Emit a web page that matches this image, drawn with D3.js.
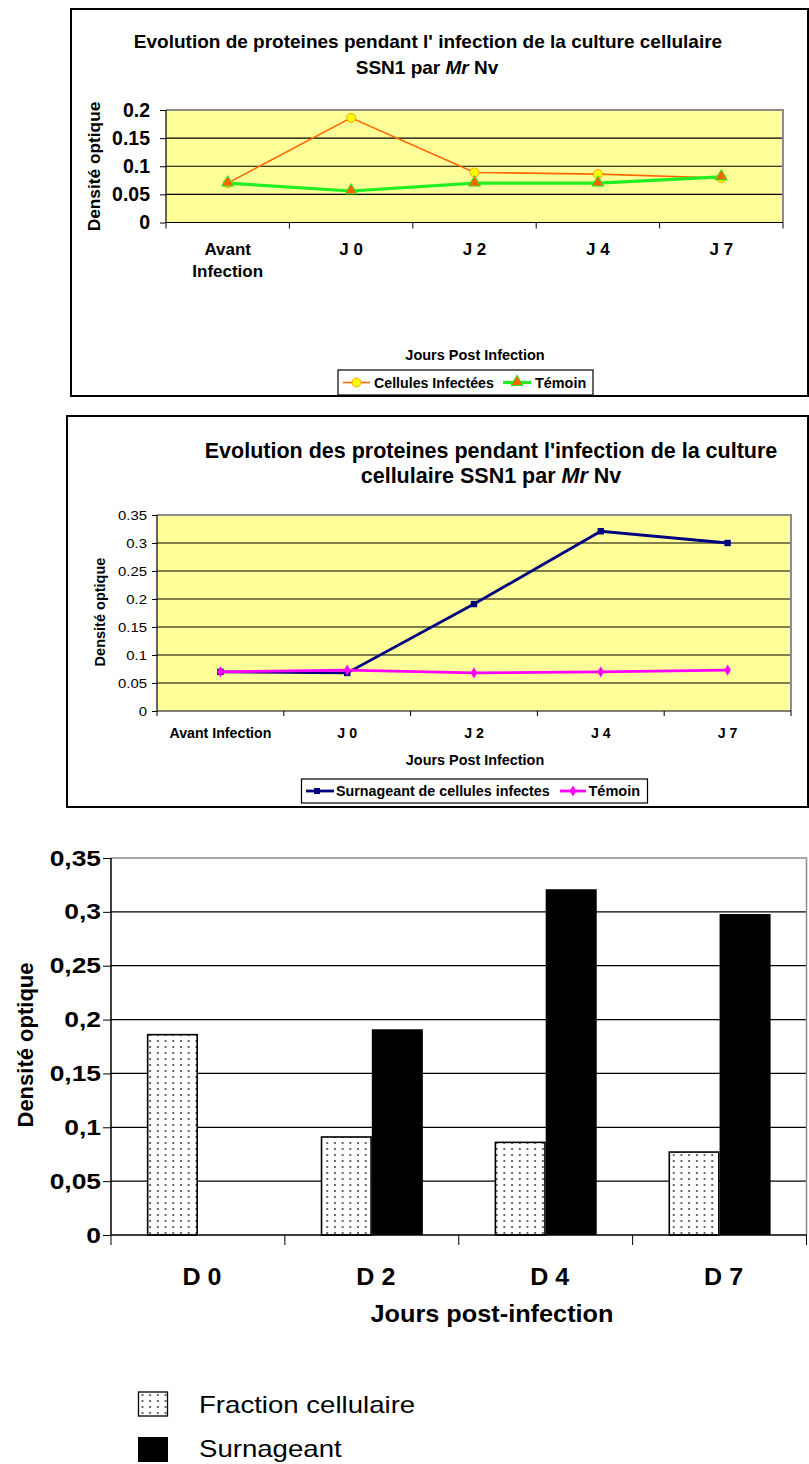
<!DOCTYPE html>
<html><head><meta charset="utf-8">
<script src="https://cdn.jsdelivr.net/npm/d3@7"></script>
<style>body{margin:0;background:#fff}svg{display:block}</style>
</head><body><svg id="c" width="809" height="1464"></svg>
<script>
// ---------- DATA ----------
// Chart 1
const days1 = ["Avant Infection", "J 0", "J 2", "J 4", "J 7"];
const cellulesInfectees = [0.070, 0.186, 0.089, 0.086, 0.079];
const temoin1 = [0.070, 0.056, 0.070, 0.070, 0.081];
const yTicks1 = [0, 0.05, 0.1, 0.15, 0.2];
const series1 = ["Cellules Infectées", "Témoin"];
// Chart 2
const days2 = ["Avant Infection", "J 0", "J 2", "J 4", "J 7"];
const surnageantLine = [0.070, 0.068, 0.191, 0.321, 0.300];
const temoin2 = [0.070, 0.073, 0.068, 0.070, 0.073];
const yTicks2 = [0, 0.05, 0.1, 0.15, 0.2, 0.25, 0.3, 0.35];
const series2 = ["Surnageant de cellules infectes", "Témoin"];
// Chart 3
const days3 = ["D 0", "D 2", "D 4", "D 7"];
const fractionCellulaire = [0.186, 0.091, 0.086, 0.077];
const surnageantBar = [null, 0.191, 0.321, 0.298];
const yTicks3 = [0, 0.05, 0.1, 0.15, 0.2, 0.25, 0.3, 0.35];
const series3 = ["Fraction cellulaire", "Surnageant"];

// ---------- HELPERS ----------
const FONT = '"Liberation Sans", Arial, Helvetica, sans-serif';
const svg = d3.select("#c");
const fmtDot = d => String(+d.toFixed(2));
const fmtComma = d => String(+d.toFixed(2)).replace(".", ",");

function txt(g, x, y, segs, o = {}) {
  const t = g.append("text")
    .attr("transform", `translate(${x},${y})${o.rot ? ` rotate(${o.rot})` : ""} scale(${o.sx || 1},1)`)
    .attr("text-anchor", o.anchor || "middle")
    .attr("font-family", FONT)
    .attr("font-size", o.size || 14)
    .attr("font-weight", o.bold ? "bold" : "normal")
    .attr("fill", "#000");
  if (typeof segs === "string") segs = [{ t: segs }];
  segs.forEach(s => t.append("tspan").attr("font-style", s.i ? "italic" : "normal").text(s.t));
  return t;
}

function yAxis(g, y, ticks, x0, o) {
  const sx = o.sx || 1;
  const ax = d3.axisLeft(y).tickValues(ticks).tickSize(o.tick).tickPadding(o.pad).tickFormat(o.fmt);
  const a = g.append("g").attr("transform", `translate(${x0},0)`).call(ax);
  a.select(".domain").remove();
  a.selectAll(".tick line").attr("stroke", "#000").attr("stroke-width", 1);
  a.selectAll(".tick text").attr("font-size", o.size).attr("font-weight", o.bold ? "bold" : "normal")
    .attr("font-family", FONT).attr("fill", "#000")
    .attr("x", -(o.tick + o.pad) / sx).attr("transform", `scale(${sx},1)`);
  return a;
}

function xAxisBand(g, x, y0, o) {
  const sx = o.sx || 1;
  const ax = d3.axisBottom(x).tickSize(0).tickPadding(o.pad);
  const a = g.append("g").attr("transform", `translate(0,${y0})`).call(ax);
  a.select(".domain").remove();
  a.selectAll(".tick text").attr("font-size", o.size).attr("font-weight", "bold")
    .attr("font-family", FONT).attr("fill", "#000")
    .attr("transform", `translate(${o.dx || 0},0) scale(${sx},1)`);
  // boundary ticks between categories
  const [r0] = x.range();
  const n = x.domain().length;
  const bounds = d3.range(n + 1).map(i => r0 + i * x.step());
  g.selectAll(null).data(bounds).enter().append("line")
    .attr("x1", d => d).attr("x2", d => d).attr("y1", y0).attr("y2", y0 + o.tick)
    .attr("stroke", "#000").attr("stroke-width", 1);
  return a;
}

function plotFrame(g, x, y, ticks, fill) {
  const [xl, xr] = x.range();
  const [yb, yt] = y.range();
  g.append("rect").attr("x", xl).attr("y", yt).attr("width", xr - xl).attr("height", yb - yt).attr("fill", fill);
  g.selectAll(null).data(ticks.slice(1, -1)).enter().append("line")
    .attr("x1", xl).attr("x2", xr).attr("y1", d => y(d)).attr("y2", d => y(d))
    .attr("stroke", "#000").attr("stroke-width", 1.1);
  g.append("path").attr("d", `M${xl},${yt}H${xr}V${yb}`).attr("fill", "none").attr("stroke", "#8c8c8c").attr("stroke-width", 2);
  g.append("path").attr("d", `M${xl},${yt}V${yb}H${xr}`).attr("fill", "none").attr("stroke", "#000").attr("stroke-width", 1.2);
}

// ================= CHART 1 =================
{
  const g = svg.append("g");
  g.append("rect").attr("x", 71).attr("y", 9).attr("width", 737).attr("height", 387)
    .attr("fill", "none").attr("stroke", "#000").attr("stroke-width", 2);
  txt(g, 428, 48, "Evolution de proteines pendant l' infection de la culture cellulaire", { size: 19, bold: true });
  txt(g, 427, 74, [{ t: "SSN1 par " }, { t: "Mr", i: true }, { t: " Nv" }], { size: 19, bold: true });

  const x = d3.scaleBand().domain(days1).range([166, 783]);
  const y = d3.scaleLinear().domain([0, 0.2]).range([222.5, 110]);
  plotFrame(g, x, y, yTicks1, "#FFFF99");
  yAxis(g, y, yTicks1, 166, { tick: 6, pad: 10, fmt: fmtDot, size: 19.5, bold: true });
  const xa = xAxisBand(g, x, 222.5, { pad: 20, size: 17, tick: 6 });
  xa.selectAll(".tick text").each(function (d) {
    const words = d.split(" ");
    if (words.length > 1 && d.startsWith("Avant")) {
      const t = d3.select(this).text(null);
      words.forEach((w, i) => t.append("tspan").attr("x", 0).attr("dy", i === 0 ? "0.71em" : "1.3em").text(w));
      t.attr("dy", null);
    }
  });
  txt(g, 100, 166.5, "Densité optique", { size: 17.3, bold: true, rot: -90 });
  txt(g, 475, 360, "Jours  Post Infection", { size: 14.5, bold: true });

  const cx = d => x(d) + x.bandwidth() / 2;
  const line = d3.line().x(d => cx(d.k)).y(d => y(d.v));
  const d1 = days1.map((k, i) => ({ k, v: cellulesInfectees[i] }));
  const d2 = days1.map((k, i) => ({ k, v: temoin1[i] }));
  g.append("path").datum(d1).attr("d", line).attr("fill", "none").attr("stroke", "#FF6600").attr("stroke-width", 1.6);
  g.append("path").datum(d2).attr("d", line).attr("fill", "none").attr("stroke", "#22EE22").attr("stroke-width", 3.2);
  g.selectAll(null).data(d1).enter().append("circle")
    .attr("cx", d => cx(d.k)).attr("cy", d => y(d.v)).attr("r", 4.5)
    .attr("fill", "#FFFF00").attr("stroke", "#FFA500").attr("stroke-width", 1);
  const tri = d3.symbol().type(d3.symbolTriangle).size(62);
  g.selectAll(null).data(d2).enter().append("path")
    .attr("d", tri).attr("transform", d => `translate(${cx(d.k)},${y(d.v) - 0.5})`)
    .attr("fill", "#FF6600").attr("stroke", "#22EE22").attr("stroke-width", 1);

  // legend
  g.append("rect").attr("x", 338).attr("y", 370).attr("width", 255).attr("height", 25)
    .attr("fill", "#fff").attr("stroke", "#000").attr("stroke-width", 1.2);
  g.append("line").attr("x1", 343).attr("x2", 370).attr("y1", 382.5).attr("y2", 382.5).attr("stroke", "#FF6600").attr("stroke-width", 1.6);
  g.append("circle").attr("cx", 356.5).attr("cy", 382.5).attr("r", 4.5).attr("fill", "#FFFF00").attr("stroke", "#FFA500");
  txt(g, 374, 387.5, series1[0], { size: 14.2, bold: true, anchor: "start" });
  g.append("line").attr("x1", 503).attr("x2", 531).attr("y1", 382.5).attr("y2", 382.5).attr("stroke", "#22EE22").attr("stroke-width", 3.2);
  g.append("path").attr("d", tri).attr("transform", "translate(517,382)").attr("fill", "#FF6600").attr("stroke", "#22EE22");
  txt(g, 535, 387.5, series1[1], { size: 14.4, bold: true, anchor: "start" });
}

// ================= CHART 2 =================
{
  const g = svg.append("g");
  g.append("rect").attr("x", 67).attr("y", 416).attr("width", 741).attr("height", 391)
    .attr("fill", "none").attr("stroke", "#000").attr("stroke-width", 2);
  txt(g, 491, 458, "Evolution des proteines pendant l'infection de la culture", { size: 21.5, bold: true });
  txt(g, 491, 483, [{ t: "cellulaire SSN1 par " }, { t: "Mr", i: true }, { t: " Nv" }], { size: 21.5, bold: true });

  const x = d3.scaleBand().domain(days2).range([157, 791]);
  const y = d3.scaleLinear().domain([0, 0.35]).range([711, 515]);
  plotFrame(g, x, y, yTicks2, "#FFFF99");
  yAxis(g, y, yTicks2, 157, { tick: 5, pad: 5, fmt: fmtDot, size: 13, bold: false, sx: 1.15 });
  xAxisBand(g, x, 711, { pad: 17, size: 14.2, tick: 5 });
  txt(g, 105, 612, "Densité optique", { size: 14.5, bold: true, rot: -90 });
  txt(g, 475, 765, "Jours Post Infection", { size: 14.4, bold: true });

  const cx = d => x(d) + x.bandwidth() / 2;
  const line = d3.line().x(d => cx(d.k)).y(d => y(d.v));
  const d1 = days2.map((k, i) => ({ k, v: surnageantLine[i] }));
  const d2 = days2.map((k, i) => ({ k, v: temoin2[i] }));
  g.append("path").datum(d1).attr("d", line).attr("fill", "none").attr("stroke", "#000080").attr("stroke-width", 2.8);
  g.selectAll(null).data(d1).enter().append("rect")
    .attr("x", d => cx(d.k) - 3.2).attr("y", d => y(d.v) - 3.2).attr("width", 6.4).attr("height", 6.4).attr("fill", "#000080");
  g.append("path").datum(d2).attr("d", line).attr("fill", "none").attr("stroke", "#FF00FF").attr("stroke-width", 2.8);
  const dia = d3.symbol().type(d3.symbolDiamond).size(36);
  g.selectAll(null).data(d2).enter().append("path")
    .attr("d", dia).attr("transform", d => `translate(${cx(d.k)},${y(d.v)})`).attr("fill", "#FF00FF");

  // legend
  g.append("rect").attr("x", 301.5).attr("y", 779).attr("width", 346).attr("height", 24)
    .attr("fill", "#fff").attr("stroke", "#000").attr("stroke-width", 1.2);
  g.append("line").attr("x1", 306).attr("x2", 334).attr("y1", 791).attr("y2", 791).attr("stroke", "#000080").attr("stroke-width", 2.8);
  g.append("rect").attr("x", 317 - 3).attr("y", 791 - 3).attr("width", 6).attr("height", 6).attr("fill", "#000080");
  txt(g, 336, 796, series2[0], { size: 14.3, bold: true, anchor: "start" });
  g.append("line").attr("x1", 560).attr("x2", 586).attr("y1", 791).attr("y2", 791).attr("stroke", "#FF00FF").attr("stroke-width", 2.8);
  g.append("path").attr("d", dia).attr("transform", "translate(573,791)").attr("fill", "#FF00FF");
  txt(g, 588.5, 796, series2[1], { size: 14.5, bold: true, anchor: "start" });
}

// ================= CHART 3 =================
{
  const g = svg.append("g");
  const defs = svg.append("defs");
  const pat = defs.append("pattern").attr("id", "dots").attr("patternUnits", "userSpaceOnUse")
    .attr("width", 7.7).attr("height", 6);
  pat.append("rect").attr("width", 7.7).attr("height", 6).attr("fill", "#fff");
  pat.append("circle").attr("cx", 3.85).attr("cy", 3).attr("r", 0.9).attr("fill", "#222");

  const x = d3.scaleBand().domain(days3).range([111, 806.5]).paddingInner(0.413).paddingOuter(0.2065);
  const xs = d3.scaleBand().domain(series3).range([0, x.bandwidth()]);
  const y = d3.scaleLinear().domain([0, 0.35]).range([1235, 858]);

  const [xl, xr] = [111, 806.5];
  g.append("rect").attr("x", xl).attr("y", 858).attr("width", xr - xl).attr("height", 1235 - 858).attr("fill", "#fff");
  g.selectAll(null).data(yTicks3.slice(1, -1)).enter().append("line")
    .attr("x1", xl).attr("x2", xr).attr("y1", d => y(d)).attr("y2", d => y(d))
    .attr("stroke", "#000").attr("stroke-width", 1.3);
  g.append("path").attr("d", `M${xl},858H${xr}V1235`).attr("fill", "none").attr("stroke", "#8c8c8c").attr("stroke-width", 1.5);

  const rows = days3.map((k, i) => ({ k, vals: [fractionCellulaire[i], surnageantBar[i]] }));
  rows.forEach(r => {
    r.vals.forEach((v, j) => {
      if (v == null) return;
      const s = series3[j];
      g.append("rect")
        .attr("x", x(r.k) + xs(s) + (j === 0 ? 0.75 : 0)).attr("y", y(v))
        .attr("width", xs.bandwidth() - (j === 0 ? 1.5 : 0)).attr("height", y(0) - y(v))
        .attr("fill", j === 0 ? "url(#dots)" : "#000")
        .attr("stroke", "#000").attr("stroke-width", j === 0 ? 1.6 : 0);
    });
  });

  g.append("path").attr("d", `M${xl},858V1235H${xr}`).attr("fill", "none").attr("stroke", "#000").attr("stroke-width", 1.5);
  yAxis(g, y, yTicks3, 111, { tick: 8, pad: 2, fmt: fmtComma, size: 22, bold: true, sx: 1.2 });

  const xb = d3.scaleBand().domain(days3).range([111, 806.5]);
  xAxisBand(g, xb, 1235, { pad: 34, size: 23, tick: 10, sx: 1.09, dx: 4 });
  txt(g, 492, 1321.5, "Jours  post-infection", { size: 23, bold: true, sx: 1.1 });
  txt(g, 33, 1045, "Densité optique", { size: 22, bold: true, rot: -90 });

  // legend
  g.append("rect").attr("x", 138.5).attr("y", 1392).attr("width", 29).attr("height", 24)
    .attr("fill", "url(#dots)").attr("stroke", "#000").attr("stroke-width", 1.3);
  txt(g, 199, 1413, series3[0], { size: 23, anchor: "start", sx: 1.2 });
  g.append("rect").attr("x", 138).attr("y", 1437).attr("width", 30).attr("height", 25).attr("fill", "#000");
  txt(g, 199, 1456.5, series3[1], { size: 23, anchor: "start", sx: 1.2 });
}
</script>
</body></html>
